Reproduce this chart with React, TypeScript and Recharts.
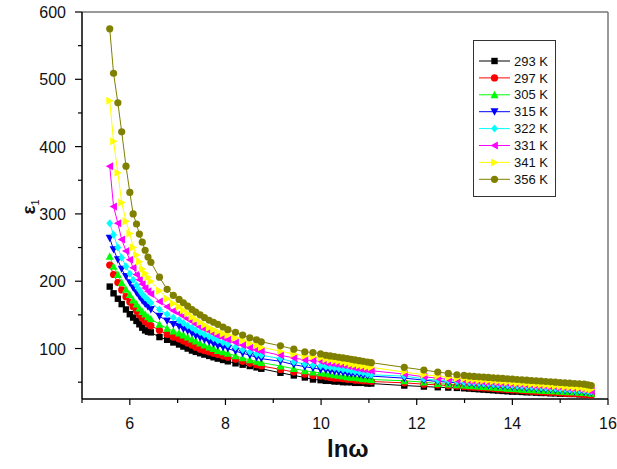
import React from "react";
import { LineChart, Line, XAxis, YAxis, ReferenceLine } from "recharts";

// ln(omega) positions of the measured frequencies
const LN_W = [
  5.58, 5.66, 5.75, 5.83, 5.92, 6.0, 6.07, 6.14, 6.2, 6.26, 6.32, 6.38, 6.44,
  6.62, 6.78, 6.91, 7.03, 7.12, 7.21, 7.3, 7.38, 7.47, 7.56, 7.66, 7.75, 7.84, 7.95, 8.05,
  8.21, 8.36, 8.51, 8.65, 8.75,
  9.15, 9.43, 9.66, 9.83, 9.99,
  10.1, 10.19, 10.28, 10.37, 10.46, 10.55, 10.63, 10.71, 10.8, 10.88, 10.97, 11.05,
  11.74, 12.15, 12.44, 12.66, 12.84, 12.99,
  13.1, 13.2, 13.3, 13.4, 13.5, 13.6, 13.7, 13.8, 13.9, 14.0, 14.1, 14.2, 14.3, 14.4,
  14.5, 14.6, 14.7, 14.8, 14.9, 15.0, 15.1, 15.2, 15.3, 15.4, 15.5, 15.58, 15.65,
];

const E293 = [
  192, 182, 174, 166, 158, 151, 146, 141, 136, 131, 127, 125, 124,
  117, 113, 109, 106, 103, 100, 97, 95, 93, 91, 89, 87, 85, 83, 81,
  78, 76, 74, 72, 70,
  64, 60, 57, 54, 53,
  52, 52, 51, 51, 50, 50, 50, 49, 49, 49, 48, 48,
  45, 43.5, 42.5, 42, 41.5, 41,
  40.5, 40, 39.5, 39, 38.5, 38, 37.5, 37, 36.5, 36, 36, 35.5, 35, 35,
  34.5, 34, 34, 33.5, 33.5, 33, 33, 32.5, 32.5, 32, 32, 32, 32,
];
const E297 = [
  224, 210, 198, 187, 177, 169, 162, 156, 150, 145, 140, 137, 134,
  127, 121, 117, 114, 111, 108, 105, 102, 99, 97, 95, 93, 91, 89, 87,
  84, 81, 78, 76, 74,
  69, 65, 62, 60, 59,
  58, 57, 56, 56, 55, 54, 54, 53, 53, 52, 52, 51,
  49, 47, 46, 45, 44, 43.5,
  43, 42.5, 42, 41.5, 41, 40.5, 40, 39.5, 39, 38.5, 38, 37.5, 37, 36.5,
  36, 35.5, 35, 34.5, 34.5, 34, 33.5, 33, 33, 32.5, 32, 31.5, 31,
];
const E305 = [
  237, 222, 210, 198, 188, 180, 172, 166, 160, 155, 151, 147, 144,
  136, 130, 126, 123, 120, 117, 114, 111, 108, 105, 102, 100, 97, 95, 93,
  89, 86, 83, 81, 79,
  74, 70, 67, 65, 64,
  63, 62, 61, 60, 59, 58, 57, 57, 56, 55, 55, 54,
  52, 50, 48, 47, 46, 45.5,
  45, 44.5, 44, 43.5, 43, 42.5, 42, 41.5, 41, 40.5, 40, 39.5, 39, 38.5,
  38.5, 38, 37.5, 37, 37, 36.5, 36, 35.5, 35.5, 35, 34.5, 34, 33.5,
];
const E315 = [
  264, 247, 232, 218, 207, 198, 190, 183, 177, 171, 166, 162, 158,
  148, 141, 136, 133, 129, 126, 123, 119, 116, 113, 110, 107, 104, 102, 100,
  96, 93, 90, 87, 85,
  81, 76, 73, 71, 69,
  68, 67, 66, 65, 64, 63, 62, 62, 61, 60, 59, 59,
  56, 53, 51, 50, 49, 48,
  47.5, 47, 46.5, 46, 45.5, 45, 44.5, 44, 43.5, 43, 42.5, 42, 41.5, 41,
  40.5, 40, 39.5, 39, 38.5, 38, 37.5, 37, 36.5, 36, 35.5, 35, 34.5,
];
const E322 = [
  286, 269, 250, 235, 222, 211, 202, 194, 187, 181, 176, 172, 168,
  158, 151, 146, 142, 138, 134, 131, 127, 124, 121, 118, 115, 112, 109, 106,
  102, 98, 95, 92, 90,
  85, 80, 77, 75, 74,
  73, 72, 71, 70, 69, 68, 67, 66, 65, 64, 62, 61,
  59, 55, 53, 52, 51, 50,
  49.5, 49, 48.5, 48, 47.5, 47, 46.5, 46, 45.5, 45, 44.5, 44, 43.5, 43,
  42.5, 42, 41.5, 41, 40.5, 40, 39.5, 39, 38.5, 38, 37.5, 37, 36,
];
const E331 = [
  371, 311, 286, 262, 245, 232, 220, 210, 202, 196, 190, 185, 181,
  170, 162, 156, 152, 148, 144, 140, 136, 132, 129, 126, 122, 119, 116, 113,
  109, 105, 101, 98, 96,
  90, 86, 83, 82, 81,
  79, 78, 77, 76, 75, 74, 73, 71, 70, 69, 68, 67,
  62, 58, 56, 54, 53, 52,
  51.5, 51, 50.5, 50, 49.5, 49, 48.5, 48, 47.5, 47, 46.5, 46, 45.5, 45,
  44.5, 44, 43.5, 43, 42.5, 42, 41, 40.5, 40, 39.5, 39, 38, 37,
];
const E341 = [
  468, 408, 361, 317, 289, 271, 250, 239, 229, 218, 212, 206, 200,
  186, 174, 167, 162, 157, 152, 147, 143, 139, 135, 131, 128, 125, 122, 120,
  116, 112, 108, 105, 102,
  96, 92, 89, 88, 86,
  84, 83, 82, 81, 80, 79, 77, 76, 75, 74, 73, 72,
  65, 61, 59, 57, 56, 55,
  54, 53.5, 53, 52.5, 52, 51.5, 51, 50.5, 50, 49, 48.5, 48, 47.5, 47,
  46.5, 46, 45.5, 45, 44.5, 44, 43, 42.5, 42, 41.5, 41, 40, 39,
];
const E356 = [
  575, 509, 465, 422, 371, 332, 300, 285, 270, 258, 246, 236, 228,
  206, 188, 179, 173, 168, 163, 158, 154, 150, 146, 142, 139, 136, 132, 128,
  124, 120, 116, 113, 110,
  104, 99, 95, 94, 92,
  90, 89, 88, 87, 86, 85, 84, 83, 82, 81, 80, 79,
  72, 68, 65, 63, 61, 60,
  59, 58.5, 58, 57.5, 57, 56.5, 56, 55.5, 55, 54.5, 54, 53.5, 53, 52.5,
  52, 51.5, 51, 50.5, 50, 49.5, 49, 48.5, 48, 47.5, 47, 46, 45,
];

const X_TICKS = [5, 6, 7, 8, 9, 10, 11, 12, 13, 14, 15, 16];
const Y_TICKS = [50, 100, 150, 200, 250, 300, 350, 400, 450, 500, 550, 600];

const SERIES = [
  { key: "e293", name: "293 K", color: "#000000", shape: "square", values: E293 },
  { key: "e297", name: "297 K", color: "#ff0000", shape: "circle", values: E297 },
  { key: "e305", name: "305 K", color: "#00ff00", shape: "up", values: E305 },
  { key: "e315", name: "315 K", color: "#0000ff", shape: "down", values: E315 },
  { key: "e322", name: "322 K", color: "#00ffff", shape: "diamond", values: E322 },
  { key: "e331", name: "331 K", color: "#ff00ff", shape: "left", values: E331 },
  { key: "e341", name: "341 K", color: "#ffff00", shape: "right", values: E341 },
  { key: "e356", name: "356 K", color: "#808000", shape: "circle", values: E356 },
];

const rows = LN_W.map((x, i) => {
  const r: Record<string, number> = { x };
  SERIES.forEach((s) => (r[s.key] = s.values[i]));
  return r;
});

const FONT = "'Liberation Sans', Arial, sans-serif";

function Marker({ shape, cx, cy, color }: { shape: string; cx: number; cy: number; color: string }) {
  const r = 3.4;
  const t = 4;
  switch (shape) {
    case "square":
      return <rect x={cx - 3.2} y={cy - 3.2} width={6.4} height={6.4} fill={color} />;
    case "circle":
      return <circle cx={cx} cy={cy} r={3.6} fill={color} />;
    case "up":
      return <polygon points={`${cx},${cy - t} ${cx - t},${cy + r} ${cx + t},${cy + r}`} fill={color} />;
    case "down":
      return <polygon points={`${cx},${cy + t} ${cx - t},${cy - r} ${cx + t},${cy - r}`} fill={color} />;
    case "diamond":
      return <polygon points={`${cx},${cy - t} ${cx + r},${cy} ${cx},${cy + t} ${cx - r},${cy}`} fill={color} />;
    case "left":
      return <polygon points={`${cx - t},${cy} ${cx + r},${cy - t} ${cx + r},${cy + t}`} fill={color} />;
    case "right":
      return <polygon points={`${cx + t},${cy} ${cx - r},${cy - t} ${cx - r},${cy + t}`} fill={color} />;
    default:
      return null;
  }
}

function XTick(props: any) {
  const { x, y, payload } = props;
  const v = payload.value;
  const major = v % 2 === 0;
  return (
    <g>
      <line x1={x} x2={x} y1={y} y2={y + (major ? 6 : 4)} stroke="#000" strokeWidth={1.2} />
      {major && (
        <text x={x} y={y + 30} textAnchor="middle" fontSize={16} fontFamily={FONT} fill="#111">
          {v}
        </text>
      )}
    </g>
  );
}

function YTick(props: any) {
  const { x, y, payload } = props;
  const v = payload.value;
  const major = v % 100 === 0;
  return (
    <g>
      <line x1={x - (major ? 7 : 4)} x2={x} y1={y} y2={y} stroke="#000" strokeWidth={1.2} />
      {major && (
        <text x={x - 16} y={y + 6} textAnchor="end" fontSize={16} fontFamily={FONT} fill="#111">
          {v}
        </text>
      )}
    </g>
  );
}

function LegendBox() {
  return (
    <svg width={84} height={158} style={{ position: "absolute", left: 473, top: 40 }}>
      <rect x={0.5} y={0.5} width={82} height={156} fill="#fff" stroke="#333" strokeWidth={1} />
      {SERIES.map((s, i) => {
        const cy = 21 + i * 16.9;
        return (
          <g key={s.key}>
            <line x1={6} x2={37} y1={cy} y2={cy} stroke={s.color} strokeWidth={1} />
            <Marker shape={s.shape} cx={21.5} cy={cy} color={s.color} />
            <text x={41} y={cy + 4.6} fontSize={13} fontFamily={FONT} fill="#111">
              {s.name}
            </text>
          </g>
        );
      })}
    </svg>
  );
}

export default function App() {
  return (
    <div style={{ position: "relative", width: 617, height: 469, background: "#fff" }}>
      <style>{`body{margin:0}`}</style>
      <LineChart width={617} height={469} data={rows} margin={{ top: 12, right: 9, bottom: 0, left: 0 }}>
        <XAxis
          dataKey="x"
          type="number"
          domain={[5, 16]}
          ticks={X_TICKS}
          interval={0}
          allowDataOverflow
          height={70}
          tickSize={0}
          tickMargin={0}
          tickLine={false}
          tick={<XTick />}
          axisLine={{ stroke: "#000", strokeWidth: 1.5 }}
        />
        <YAxis
          type="number"
          domain={[25, 600]}
          ticks={Y_TICKS}
          interval={0}
          allowDataOverflow
          width={82}
          tickSize={0}
          tickMargin={0}
          tickLine={false}
          tick={<YTick />}
          axisLine={{ stroke: "#000", strokeWidth: 1.5 }}
        />
        <ReferenceLine y={600} stroke="#777" strokeWidth={1.5} />
        <ReferenceLine x={16} stroke="#777" strokeWidth={1.5} />
        {SERIES.map((s) => (
          <Line
            key={s.key}
            dataKey={s.key}
            name={s.name}
            stroke={s.color}
            strokeWidth={1}
            isAnimationActive={false}
            activeDot={false}
            dot={(p: any) => (
              <Marker key={`${s.key}-${p.index}`} shape={s.shape} cx={p.cx} cy={p.cy} color={s.color} />
            )}
          />
        ))}
      </LineChart>
      <LegendBox />
      <div
        style={{
          position: "absolute",
          left: 327,
          top: 437,
          fontFamily: FONT,
          fontWeight: "bold",
          fontSize: 24,
          color: "#111",
          lineHeight: 1,
        }}
      >
        lnω
      </div>
      <div
        style={{
          position: "absolute",
          left: 30,
          top: 207,
          transform: "translate(-50%, -50%) rotate(-90deg)",
          fontFamily: FONT,
          fontWeight: "bold",
          fontSize: 19,
          color: "#111",
          lineHeight: 1,
          whiteSpace: "nowrap",
        }}
      >
        ε<sub style={{ fontSize: 11, fontWeight: "normal" }}>1</sub>
      </div>
    </div>
  );
}
